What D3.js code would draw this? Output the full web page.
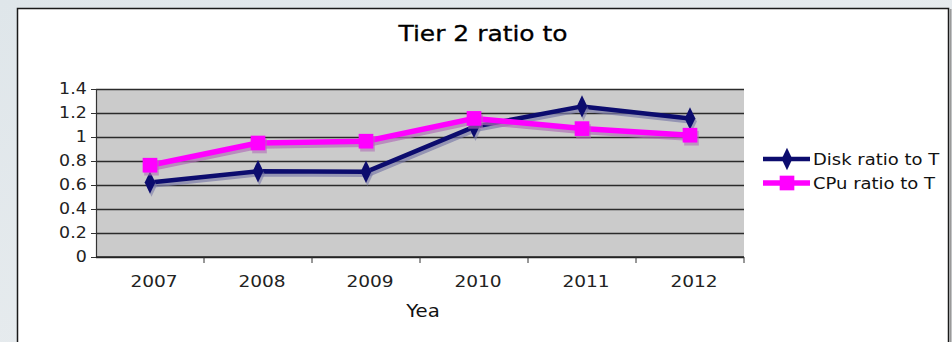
<!DOCTYPE html>
<html>
<head>
<meta charset="utf-8">
<script src="https://cdn.jsdelivr.net/npm/d3@7"></script>
<style>
  html, body { margin: 0; padding: 0; background: #e4e9ec; }
  svg { display: block; font-family: "DejaVu Sans", Verdana, sans-serif; }
</style>
</head>
<body>
<div id="main_chart"></div>
<script>
const years = ["2007", "2008", "2009", "2010", "2011", "2012"];
const diskRatio = [0.62, 0.715, 0.71, 1.085, 1.255, 1.155];
const cpuRatio = [0.765, 0.95, 0.965, 1.155, 1.07, 1.015];
const yTicks = [0, 0.2, 0.4, 0.6, 0.8, 1, 1.2, 1.4];
const yTickLabels = ["0", "0.2", "0.4", "0.6", "0.8", "1", "1.2", "1.4"];
const seriesNames = ["Disk ratio to T", "CPu ratio to T"];
const chartTitle = "Tier 2 ratio to";
const xTitle = "Yea";

const width = 952;
const height = 342;
const plot = { left: 96, right: 744, top: 89, bottom: 257 };
const stretch = 1.16; // picture text is wider than its height

const xScale = d3.scaleBand().domain(years).range([plot.left, plot.right]);
const yScale = d3.scaleLinear().domain([0, 1.4]).range([plot.bottom, plot.top]);

const svg = d3.create("svg").attr("width", width).attr("height", height);

// backdrop behind the chart card
const grad = svg.append("defs").append("linearGradient")
  .attr("id", "bg").attr("x1", 0).attr("x2", 1).attr("y1", 0).attr("y2", 1);
grad.append("stop").attr("offset", "0%").attr("stop-color", "#dfe6ea");
grad.append("stop").attr("offset", "100%").attr("stop-color", "#eceff1");
svg.append("rect").attr("width", width).attr("height", height).attr("fill", "url(#bg)");

// chart card
svg.append("rect")
  .attr("x", 17.5).attr("y", 8.5)
  .attr("width", 931).attr("height", 400)
  .attr("fill", "#ffffff")
  .attr("stroke", "#1a1a1a")
  .attr("stroke-width", 1.5);
svg.append("line")
  .attr("x1", 950.5).attr("x2", 950.5).attr("y1", 9).attr("y2", height)
  .attr("stroke", "#9a9a9a").attr("stroke-width", 2);

function wideText(sel, x, y) {
  return sel.attr("transform", `translate(${x},${y}) scale(${stretch},1)`);
}

// title
wideText(svg.append("text"), 483, 41)
  .attr("text-anchor", "middle")
  .attr("font-size", 21.5)
  .attr("fill", "#000")
  .attr("stroke", "#000").attr("stroke-width", 0.3)
  .text(chartTitle);

// plot background
svg.append("rect")
  .attr("x", plot.left).attr("y", plot.top)
  .attr("width", plot.right - plot.left).attr("height", plot.bottom - plot.top)
  .attr("fill", "#cbcbcb");

// gridlines
svg.append("g")
  .attr("transform", `translate(${plot.left},0)`)
  .call(d3.axisLeft(yScale).tickValues(yTicks).tickSize(-(plot.right - plot.left)).tickFormat(""))
  .call((g) => g.select(".domain").remove())
  .call((g) => g.selectAll("line").attr("stroke", "#2b2b2b").attr("stroke-width", 1.6));

// y axis
svg.append("g")
  .attr("transform", `translate(${plot.left},0)`)
  .call(d3.axisLeft(yScale).tickValues(yTicks).tickSize(5).tickPadding(3)
    .tickFormat((d, i) => yTickLabels[i]))
  .call((g) => g.select(".domain").attr("stroke", "#333").attr("stroke-width", 1.2))
  .call((g) => g.selectAll("line").attr("stroke", "#333"))
  .call((g) => g.selectAll("text")
    .attr("font-size", 15).attr("fill", "#222")
    .attr("font-family", "DejaVu Sans, sans-serif")
    .attr("transform", `scale(${stretch},1)`));

// x axis, ticks between categories
const xAxis = svg.append("g").attr("transform", `translate(0,${plot.bottom})`);
xAxis.append("line")
  .attr("x1", plot.left).attr("x2", plot.right)
  .attr("stroke", "#222").attr("stroke-width", 1.6);
xAxis.selectAll("line.tick")
  .data(years)
  .join("line")
  .attr("class", "tick")
  .attr("x1", (d) => xScale(d) + xScale.bandwidth())
  .attr("x2", (d) => xScale(d) + xScale.bandwidth())
  .attr("y1", 0).attr("y2", 6)
  .attr("stroke", "#333");
xAxis.selectAll("text")
  .data(years)
  .join("text")
  .attr("text-anchor", "middle")
  .attr("font-size", 16)
  .attr("fill", "#222")
  .attr("transform", (d) => `translate(${xScale(d) + xScale.bandwidth() / 2 + 4},30) scale(${stretch},1)`)
  .text((d) => d);

wideText(svg.append("text"), 423, 317)
  .attr("text-anchor", "middle")
  .attr("font-size", 17)
  .attr("fill", "#111")
  .text(xTitle);

// series
const cx = (i) => xScale(years[i]) + xScale.bandwidth() / 2;
const line = d3.line().x((d, i) => cx(i)).y((d) => yScale(d));

const series = [
  { name: seriesNames[0], values: diskRatio, color: "#0c0c6e", shadow: "#7c7ca8", w: 4.5, marker: d3.symbolDiamond, size: 110 },
  { name: seriesNames[1], values: cpuRatio, color: "#ff00ff", shadow: "#b070b8", w: 5.5, marker: d3.symbolSquare, size: 215 }
];
const markScale = (s) => (s.marker === d3.symbolDiamond ? " scale(0.95,1.15)" : "");

series.forEach((s) => {
  const g = svg.append("g");
  g.append("path")
    .attr("d", line(s.values))
    .attr("fill", "none")
    .attr("stroke", s.shadow)
    .attr("stroke-opacity", 0.7)
    .attr("stroke-width", s.w)
    .attr("stroke-linejoin", "round")
    .attr("transform", "translate(1.5,3)");
  g.append("path")
    .attr("d", line(s.values))
    .attr("fill", "none")
    .attr("stroke", s.color)
    .attr("stroke-width", s.w)
    .attr("stroke-linejoin", "round");
  g.selectAll("path.shadowmark")
    .data(s.values)
    .join("path")
    .attr("class", "shadowmark")
    .attr("d", d3.symbol(s.marker, s.size))
    .attr("transform", (d, i) => `translate(${cx(i) + 1.5},${yScale(d) + 3})` + markScale(s))
    .attr("fill", s.shadow)
    .attr("opacity", 0.6);
  g.selectAll("path.mark")
    .data(s.values)
    .join("path")
    .attr("class", "mark")
    .attr("d", d3.symbol(s.marker, s.size))
    .attr("transform", (d, i) => `translate(${cx(i)},${yScale(d)})` + markScale(s))
    .attr("fill", s.color);
});

// legend
const legend = svg.append("g").attr("transform", "translate(763,159)");
series.forEach((s, i) => {
  const row = legend.append("g").attr("transform", `translate(0,${i * 24})`);
  row.append("line")
    .attr("x1", 0).attr("x2", 47)
    .attr("stroke", s.color).attr("stroke-width", s.w);
  row.append("path")
    .attr("d", d3.symbol(s.marker, s.size))
    .attr("transform", "translate(24,0)" + markScale(s))
    .attr("fill", s.color);
  wideText(row.append("text"), 50, 6)
    .attr("font-size", 15.5)
    .attr("fill", "#111")
    .text(s.name);
});

document.getElementById("main_chart").append(svg.node());
</script>
</body>
</html>
